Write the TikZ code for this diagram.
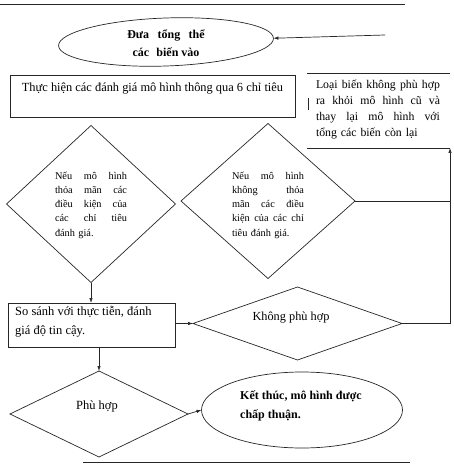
\documentclass[tikz,border=0pt]{standalone}
\usepackage{fontspec}
\setmainfont{Liberation Serif}
\usetikzlibrary{shapes.geometric,arrows.meta}
\newcommand{\jl}[2]{\leavevmode\hbox to #1{#2}}
\begin{document}
\begin{tikzpicture}[x=1pt,y=-1pt,
  ln/.style={draw=black!85, line width=0.7pt},
  arr/.style={ln, -{Latex[length=5pt,width=3.5pt]}},
  dia/.style={diamond, ln, inner sep=0pt, outer sep=0pt},
  ell/.style={ellipse, ln, inner sep=0pt, outer sep=0pt},
  box/.style={rectangle, ln, inner sep=0pt, outer sep=0pt},
  txt/.style={font=\fontsize{12.3}{15}\selectfont, inner sep=0pt, align=left},
  dtxt/.style={font=\fontsize{10.3}{14.3}\selectfont, inner sep=0pt, text width=72pt, align=left}
]
\useasboundingbox (0,0) rectangle (453,465);
% rules
\coordinate (tl) at (0,4); \coordinate (tr) at (405,4);
\draw[ln] (tl) -- (tr);
\coordinate (bl) at (83,462); \coordinate (br) at (410,462);
\draw[ln] (bl) -- (br);

% start ellipse
\node[ell, minimum width=215pt, minimum height=48pt, rotate=2] (start) at (166,42) {};
\node[txt, font=\fontsize{12}{18}\selectfont\bfseries, align=center] (starttxt) at (166,43) {Đưa\hspace{0.7em}tổng\hspace{0.7em}thể\\các\hspace{0.6em}biến vào};
\coordinate (fb) at (385,35);
\draw[arr] (fb) -- (start.east);

% evaluation box
\node[box, minimum width=285pt, minimum height=42pt] (eval) at (152.5,96) {};
\node[txt, font=\fontsize{12.4}{15}\selectfont] (evaltxt) at (152.5,89) {Thực hiện các đánh giá mô hình thông qua 6 chỉ tiêu};

% remove-variables box (top and bottom rules only)
\node[txt, text width=124pt, font=\fontsize{11.8}{16}\selectfont] (remove) at (378,110)
  {\jl{124pt}{Loại\hfill biến\hfill không\hfill phù\hfill hợp}\\
   \jl{124pt}{ra\hfill khỏi\hfill mô\hfill hình\hfill cũ\hfill và}\\
   \jl{124pt}{thay\hfill lại\hfill mô\hfill hình\hfill với}\\
   tổng các biến còn lại};
\coordinate (rtl) at (307,73); \coordinate (rtr) at (450,73);
\coordinate (rbl) at (307,148); \coordinate (rbr) at (450,148);
\draw[ln] (rtl) -- (rtr);
\draw[ln] (rbl) -- (rbr);
\coordinate (tk1) at (308,98); \coordinate (tk2) at (308,110);
\draw[ln, line width=0.4pt] (tk1) -- (tk2);

% left decision
\node[dia, minimum width=169pt, minimum height=157pt] (d1) at (91,204) {};
\node[dtxt] (d1t) at (91,205)
  {\jl{72pt}{Nếu\hfill mô\hfill hình}\\
   \jl{72pt}{thỏa\hfill mãn\hfill các}\\
   \jl{72pt}{điều\hfill kiện\hfill của}\\
   \jl{72pt}{các\hfill chỉ\hfill tiêu}\\
   đánh giá.};

% right decision
\node[dia, minimum width=174pt, minimum height=155pt] (d2) at (268,201) {};
\node[dtxt] (d2t) at (268,205)
  {\jl{72pt}{Nếu\hfill mô\hfill hình}\\
   \jl{72pt}{không\hfill thỏa}\\
   \jl{72pt}{mãn\hfill các\hfill điều}\\
   \jl{72pt}{kiện\hfill của\hfill các\hfill chỉ}\\
   tiêu đánh giá.};

% compare box
\node[box, minimum width=167pt, minimum height=44pt] (cmp) at (91.5,325) {};
\node[txt, anchor=west, font=\fontsize{12.5}{19}\selectfont] (cmpt) at (15,322) {So sánh với thực tiễn, đánh\\giá độ tin cậy.};

% not suitable
\node[dia, minimum width=209pt, minimum height=73pt] (nph) at (297.5,323.5) {};
\node[txt] (npht) at (291,318) {Không phù hợp};

% suitable
\node[dia, minimum width=178pt, minimum height=86pt] (ph) at (99,414) {};
\node[txt, font=\fontsize{12.5}{15}\selectfont] (pht) at (97,406) {Phù hợp};

% end ellipse
\node[ell, minimum width=201pt, minimum height=76pt] (fin) at (302,410) {};
\node[txt, anchor=west, font=\fontsize{12}{19}\selectfont\bfseries] (fint) at (240,406) {Kết thúc, mô hình được\\chấp thuận.};

% connectors
\draw[arr] (d1.south) -- (d1.south |- cmp.north);
\draw[arr] (nph.west -| cmp.east) -- (nph.west);
\draw[arr] (ph.north |- cmp.south) -- (ph.north);
\draw[arr] (ph.east) -- (fin.west);
\draw[arr] (nph.east) -| (rbr);
\draw[ln] (d2.east) -- (d2.east -| rbr);
\end{tikzpicture}
\end{document}
